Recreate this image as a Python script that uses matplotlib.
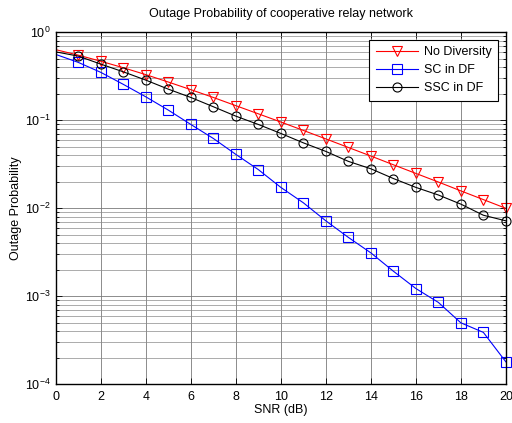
import numpy as np
import matplotlib
matplotlib.use('Agg')
import matplotlib.pyplot as plt
from matplotlib.ticker import LogLocator, NullFormatter

plt.rcParams['font.family'] = ['Liberation Sans', 'DejaVu Sans']

# SNR values (dB)
snr = np.arange(0, 21)

# values
no_div = [0.632, 0.548, 0.467, 0.394, 0.329, 0.271, 0.222, 0.181, 0.146, 0.118,
          0.0952, 0.0764, 0.0612, 0.0489, 0.0391, 0.0311, 0.0248, 0.0198,
          0.0157, 0.0125, 0.00995]
sc_df = [0.558, 0.453, 0.349, 0.255, 0.184, 0.130, 0.0893, 0.0619, 0.0408,
         0.0274, 0.0172, 0.0115, 0.00717, 0.00465, 0.00310, 0.00192, 0.00122,
         0.000848, 0.000497, 0.000387, 0.000179]
ssc_df = [0.597, 0.534, 0.433, 0.354, 0.285, 0.225, 0.181, 0.142, 0.111,
          0.0893, 0.0706, 0.0552, 0.0441, 0.0340, 0.0280, 0.0217, 0.0172,
          0.0141, 0.0111, 0.0083, 0.00717]

fig = plt.figure(figsize=(5.12, 4.23), dpi=100)
ax = fig.add_axes([0.109, 0.092, 0.879, 0.832])

series = [(no_div, 'r', 'v', 7, 'No Diversity'),
          (sc_df, 'b', 's', 6.5, 'SC in DF'),
          (ssc_df, 'k', 'o', 6.5, 'SSC in DF')]

for vals, c, m, ms, lab in series:
    ax.semilogy(snr, vals, color=c, lw=0.8)
    # no marker at 0 dB in the original
    ax.semilogy(snr[1:], vals[1:], ls='none', marker=m, mfc='none', mec=c,
                ms=ms, mew=0.8, clip_on=False)
    ax.plot([], [], color=c, lw=0.8, marker=m, mfc='none', mec=c, ms=ms,
            mew=0.8, label=lab)

ax.set_xlim(0, 20)
ax.set_ylim(1e-4, 1)
ax.set_xticks(np.arange(0, 21, 2))
ax.yaxis.set_major_locator(LogLocator(base=10, numticks=10))
ax.yaxis.set_minor_locator(LogLocator(base=10, subs=np.arange(2, 10), numticks=10))
ax.yaxis.set_minor_formatter(NullFormatter())

ax.grid(True, which='major', color='#7a7a7a', lw=0.6, ls='-')
ax.grid(True, which='minor', axis='y', color='#8a8a8a', lw=0.5, ls='-')
ax.tick_params(which='both', direction='in', top=True, right=True,
               labelsize=9, width=0.6)
ax.tick_params(which='major', length=4)
ax.tick_params(axis='x', which='major', pad=5)
ax.tick_params(which='minor', length=2)
for s in ax.spines.values():
    s.set_linewidth(1.0)

ax.set_title('Outage Probability of cooperative relay network', fontsize=9, pad=11)
ax.set_xlabel('SNR (dB)', fontsize=9, labelpad=1)
ax.set_ylabel('Outage Probability', fontsize=9, labelpad=2)

leg = ax.legend(loc='upper right', fontsize=9, fancybox=False, framealpha=1,
                edgecolor='k', handlelength=3.4, borderaxespad=0.6,
                labelspacing=0.5, handletextpad=0.5, borderpad=0.5)
leg.get_frame().set_linewidth(0.8)

fig.savefig('out.png', dpi=100)
